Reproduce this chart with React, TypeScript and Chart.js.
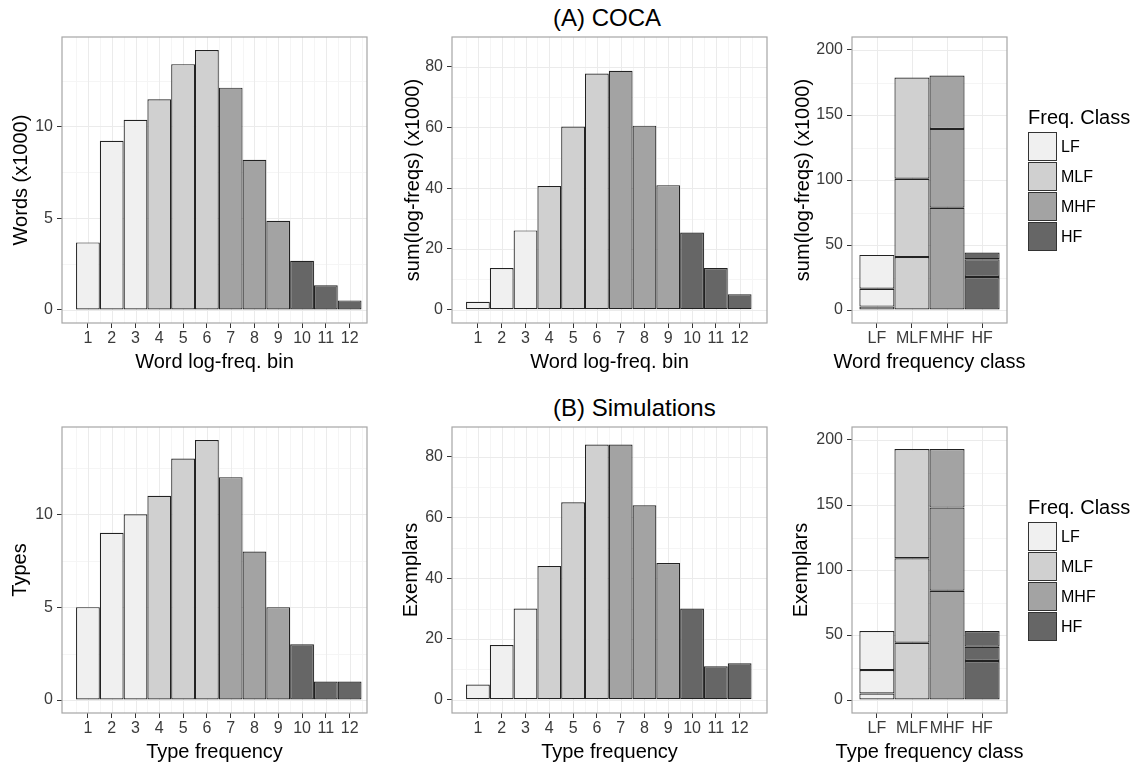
import React, { useEffect, useRef } from 'react';
import { Chart, registerables } from 'chart.js';

Chart.register(...registerables);

const FONT = "'Liberation Sans', Arial, Helvetica, sans-serif";

// ---------- data ----------
const bins = [1, 2, 3, 4, 5, 6, 7, 8, 9, 10, 11, 12];
const binClass = ['LF', 'LF', 'LF', 'MLF', 'MLF', 'MLF', 'MHF', 'MHF', 'MHF', 'HF', 'HF', 'HF'];
const freqClasses = ['LF', 'MLF', 'MHF', 'HF'];
const classFills = ['#F0F0F0', '#D0D0D0', '#A3A3A3', '#666666'];

// (A) COCA
const cocaWords = [3.68, 9.22, 10.36, 11.48, 13.39, 14.16, 12.11, 8.18, 4.86, 2.68, 1.35, 0.52];
const cocaLogFreqSums = [2.6, 13.7, 26.1, 40.7, 60.3, 77.8, 78.7, 60.6, 41.0, 25.4, 13.7, 5.1];
// (B) Simulations
const simTypes = [5, 9, 10, 11, 13, 14, 12, 8, 5, 3, 1, 1];
const simExemplars = [5, 18, 30, 44, 65, 84, 84, 64, 45, 30, 11, 12];

// tick values
const ticksCount = [0, 5, 10];
const minorCount = [2.5, 7.5, 12.5];
const ticksSum = [0, 20, 40, 60, 80];
const minorSum = [10, 30, 50, 70];
const ticksStack = [0, 50, 100, 150, 200];
const minorStack = [25, 75, 125, 175];
const binMinor = [0.5, 1.5, 2.5, 3.5, 4.5, 5.5, 6.5, 7.5, 8.5, 9.5, 10.5, 11.5, 12.5];

type Spec = {
  key: string;
  kind: 'hist' | 'stack';
  values: number[];
  box: [number, number, number, number];
  yTitle: string;
  xTitle: string;
  yTitleX: number;
  xTitleY: number;
  yRange: [number, number];
  xRange: [number, number];
  yMajor: number[];
  yMinor: number[];
  legend?: boolean;
};

const panels: Spec[] = [
  { key: 'a1', kind: 'hist', values: cocaWords, box: [62, 37, 367, 323], yTitle: 'Words (x1000)', xTitle: 'Word log-freq. bin', yTitleX: 21.7, xTitleY: 362, yRange: [-0.71, 14.87], xRange: [-0.09, 12.73], yMajor: ticksCount, yMinor: minorCount },
  { key: 'a2', kind: 'hist', values: cocaLogFreqSums, box: [452, 37, 767, 323], yTitle: 'sum(log-freqs) (x1000)', xTitle: 'Word log-freq. bin', yTitleX: 413.3, xTitleY: 362, yRange: [-4.4, 89.8], xRange: [-0.09, 13.15], yMajor: ticksSum, yMinor: minorSum },
  { key: 'a3', kind: 'stack', values: cocaLogFreqSums, box: [852, 37, 1007, 323], yTitle: 'sum(log-freqs) (x1000)', xTitle: 'Word frequency class', yTitleX: 803.3, xTitleY: 362, yRange: [-10, 210], xRange: [0.29, 4.71], yMajor: ticksStack, yMinor: minorStack, legend: true },
  { key: 'b1', kind: 'hist', values: simTypes, box: [62, 427, 367, 713], yTitle: 'Types', xTitle: 'Type frequency', yTitleX: 20.7, xTitleY: 752.5, yRange: [-0.7, 14.7], xRange: [-0.09, 12.73], yMajor: ticksCount, yMinor: minorCount },
  { key: 'b2', kind: 'hist', values: simExemplars, box: [452, 427, 767, 713], yTitle: 'Exemplars', xTitle: 'Type frequency', yTitleX: 411, xTitleY: 752.5, yRange: [-4.4, 89.8], xRange: [-0.09, 13.15], yMajor: ticksSum, yMinor: minorSum },
  { key: 'b3', kind: 'stack', values: simExemplars, box: [852, 427, 1007, 713], yTitle: 'Exemplars', xTitle: 'Type frequency class', yTitleX: 801, xTitleY: 752.5, yRange: [-10, 210], xRange: [0.29, 4.71], yMajor: ticksStack, yMinor: minorStack, legend: true },
];

const fillOf = (c: string) => classFills[freqClasses.indexOf(c)];

// gridlines, panel border and x-axis title
const panelPlugin = {
  id: 'panelDecor',
  beforeDatasetsDraw(chart: any, _args: any, opts: any) {
    const { ctx, chartArea: a, scales } = chart;
    const xs = scales.x, ys = scales.y;
    ctx.save();
    ctx.beginPath();
    ctx.rect(a.left, a.top, a.right - a.left, a.bottom - a.top);
    ctx.clip();
    const vline = (v: number, color: string) => {
      const px = Math.round(xs.getPixelForValue(v)) + 0.5;
      ctx.strokeStyle = color;
      ctx.lineWidth = 1;
      ctx.beginPath();
      ctx.moveTo(px, a.top);
      ctx.lineTo(px, a.bottom);
      ctx.stroke();
    };
    const hline = (v: number, color: string) => {
      const py = Math.round(ys.getPixelForValue(v)) + 0.5;
      ctx.strokeStyle = color;
      ctx.lineWidth = 1;
      ctx.beginPath();
      ctx.moveTo(a.left, py);
      ctx.lineTo(a.right, py);
      ctx.stroke();
    };
    (opts.xMinor || []).forEach((v: number) => vline(v, '#F5F5F5'));
    (opts.yMinor || []).forEach((v: number) => hline(v, '#F5F5F5'));
    (opts.xMajor || []).forEach((v: number) => vline(v, '#EBEBEB'));
    (opts.yMajor || []).forEach((v: number) => hline(v, '#EBEBEB'));
    ctx.restore();
  },
  afterDatasetsDraw(chart: any) {
    const { ctx, chartArea: a } = chart;
    ctx.save();
    ctx.strokeStyle = '#A6A6A6';
    ctx.lineWidth = 1.2;
    ctx.strokeRect(a.left, a.top, a.right - a.left, a.bottom - a.top);
    ctx.restore();
  },
  afterDraw(chart: any, _args: any, opts: any) {
    if (!opts || !opts.xTitle) return;
    const { ctx, chartArea: a } = chart;
    ctx.save();
    ctx.fillStyle = '#000';
    ctx.font = `20px ${FONT}`;
    ctx.textAlign = 'center';
    ctx.textBaseline = 'middle';
    ctx.fillText(opts.xTitle, (a.left + a.right) / 2, opts.xTitleY);
    ctx.restore();
  },
};

// ggplot-like legend at the right of the panel
const legendPlugin = {
  id: 'freqLegend',
  afterDraw(chart: any, _args: any, opts: any) {
    if (!opts || !opts.show) return;
    const { ctx, chartArea: a } = chart;
    const mid = (a.top + a.bottom) / 2;
    const x0 = Math.round(a.right + 21);
    ctx.save();
    ctx.textAlign = 'left';
    ctx.textBaseline = 'middle';
    ctx.fillStyle = '#000';
    ctx.font = `20px ${FONT}`;
    ctx.fillText(opts.title, x0, mid - 62);
    (opts.labels as string[]).forEach((lab, i) => {
      const y = Math.round(mid - 48 + i * 30);
      ctx.fillStyle = opts.colors[i];
      ctx.fillRect(x0, y, 29, 29);
      ctx.strokeStyle = '#333';
      ctx.lineWidth = 1;
      ctx.strokeRect(x0 + 0.5, y + 0.5, 28, 28);
      ctx.fillStyle = '#000';
      ctx.font = `16px ${FONT}`;
      ctx.fillText(lab, x0 + 33, y + 16);
    });
    ctx.restore();
  },
};

function Panel({ spec }: { spec: Spec }) {
  const ref = useRef<HTMLCanvasElement | null>(null);
  const [l, t, r, b] = spec.box;
  const TOP = 20;
  const cl = Math.floor(spec.yTitleX - 12);
  const titlePadLeft = spec.yTitleX - 12 - cl;
  const ct = t - TOP;
  const cb = Math.min(765, Math.ceil(spec.xTitleY + 12));
  const cr = spec.legend ? 1138 : r + 10;
  const cw = cr - cl;
  const ch = cb - ct;

  useEffect(() => {
    const canvas = ref.current;
    if (!canvas) return;
    const isStack = spec.kind === 'stack';
    const common = {
      borderColor: '#222222',
      borderWidth: 1.2,
      borderSkipped: false,
      barPercentage: 1,
      categoryPercentage: 1,
      inflateAmount: 0,
    };
    let datasets: any[];
    if (isStack) {
      const binsOf = (c: string) => bins.map((_, j) => j).filter((j) => binClass[j] === c);
      datasets = [0, 1, 2].map((k) => ({
        ...common,
        stack: 's',
        data: freqClasses.map((c, i) => ({ x: i + 1, y: spec.values[binsOf(c)[k]] })),
        backgroundColor: classFills,
      }));
    } else {
      datasets = [
        {
          ...common,
          data: bins.map((bn, i) => ({ x: bn, y: spec.values[i] })),
          backgroundColor: binClass.map(fillOf),
        },
      ];
    }
    const xMajor = isStack ? [1, 2, 3, 4] : bins;
    const tickFont = { family: FONT, size: 16 };
    const titleFont = { family: FONT, size: 20 };
    const chart = new Chart(canvas, {
      type: 'bar',
      data: { datasets },
      plugins: [panelPlugin, legendPlugin],
      options: {
        responsive: false,
        animation: false,
        devicePixelRatio: 1,
        layout: { padding: { top: TOP, right: cr - r, bottom: 0, left: 0 } },
        plugins: {
          legend: { display: false },
          tooltip: { enabled: false },
          title: { display: false },
          panelDecor: {
            xMajor,
            xMinor: isStack ? [] : binMinor,
            yMajor: spec.yMajor,
            yMinor: spec.yMinor,
            xTitle: spec.xTitle,
            xTitleY: spec.xTitleY - ct,
          },
          freqLegend: { show: !!spec.legend, title: 'Freq. Class', labels: freqClasses, colors: classFills },
        } as any,
        scales: {
          x: {
            type: 'linear',
            min: spec.xRange[0],
            max: spec.xRange[1],
            offset: false,
            stacked: isStack,
            afterBuildTicks: (s: any) => {
              s.ticks = xMajor.map((v) => ({ value: v }));
            },
            afterFit: (s: any) => {
              s.height = cb - b;
            },
            grid: {
              display: true,
              offset: false,
              drawOnChartArea: false,
              drawTicks: true,
              tickLength: 5,
              tickColor: '#333',
              tickWidth: 1,
            },
            border: { display: false },
            ticks: {
              autoSkip: false,
              maxRotation: 0,
              minRotation: 0,
              padding: 1,
              color: '#3A3A3A',
              font: tickFont,
              callback: (v: any, i: number) => (isStack ? freqClasses[i] : String(v)),
            },
            title: { display: false },
          },
          y: {
            type: 'linear',
            min: spec.yRange[0],
            max: spec.yRange[1],
            stacked: isStack,
            afterBuildTicks: (s: any) => {
              s.ticks = spec.yMajor.map((v) => ({ value: v }));
            },
            afterFit: (s: any) => {
              s.width = l - cl;
            },
            grid: {
              display: true,
              drawOnChartArea: false,
              drawTicks: true,
              tickLength: 5,
              tickColor: '#333',
              tickWidth: 1,
            },
            border: { display: false },
            ticks: {
              padding: 4,
              color: '#3A3A3A',
              font: tickFont,
              callback: (v: any) => String(v),
            },
            title: {
              display: true,
              text: spec.yTitle,
              color: '#000',
              font: titleFont,
              padding: { top: titlePadLeft, bottom: 0 },
            },
          },
        } as any,
      },
    } as any);
    return () => chart.destroy();
  }, []);

  return (
    <canvas
      ref={ref}
      width={cw}
      height={ch}
      style={{ position: 'absolute', left: cl, top: ct, width: cw, height: ch }}
    />
  );
}

export default function App() {
  const titleStyle: React.CSSProperties = {
    position: 'absolute',
    font: `24px ${FONT}`,
    lineHeight: '24px',
    color: '#000',
    whiteSpace: 'nowrap',
  };
  return (
    <div style={{ position: 'absolute', left: 0, top: 0, width: 1138, height: 765, background: '#fff', overflow: 'hidden' }}>
      <div style={{ ...titleStyle, left: 553, top: 6 }}>(A) COCA</div>
      <div style={{ ...titleStyle, left: 553, top: 396 }}>(B) Simulations</div>
      {panels.map((p) => (
        <Panel key={p.key} spec={p} />
      ))}
    </div>
  );
}
